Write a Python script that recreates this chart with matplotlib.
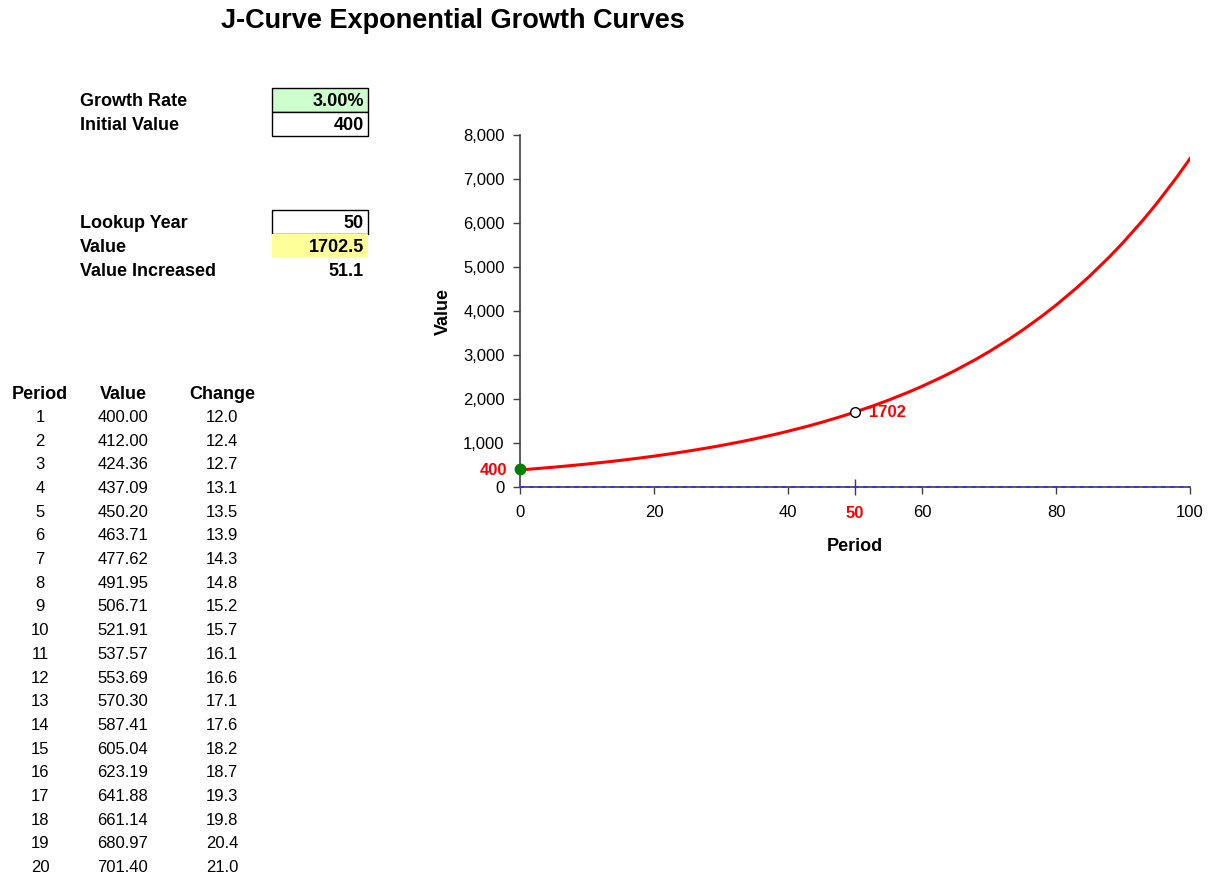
import matplotlib
matplotlib.use("Agg")
import matplotlib.pyplot as plt
from matplotlib.patches import Rectangle
from matplotlib.ticker import FuncFormatter

plt.rcParams['font.family'] = ['Liberation Sans', 'DejaVu Sans']

# -----------------------------
# DATA
# -----------------------------
growth_rate = "3.00%"
initial_value = 400
lookup_year = 50
lookup_value = 1702.5
value_increased = 51.1

table_periods = list(range(1, 21))
table_values = [400.00, 412.00, 424.36, 437.09, 450.20, 463.71, 477.62, 491.95,
                506.71, 521.91, 537.57, 553.69, 570.30, 587.41, 605.04, 623.19,
                641.88, 661.14, 680.97, 701.40]
table_changes = [12.0, 12.4, 12.7, 13.1, 13.5, 13.9, 14.3, 14.8, 15.2, 15.7,
                 16.1, 16.6, 17.1, 17.6, 18.2, 18.7, 19.3, 19.8, 20.4, 21.0]

curve_periods = [1, 3, 5, 8, 10, 13, 15, 18, 20, 23, 25, 28, 30, 33, 35, 38,
                 40, 43, 45, 48, 50, 53, 55, 58, 60, 63, 65, 68, 70, 73, 75,
                 78, 80, 83, 85, 88, 90, 93, 95, 98, 100]
curve_values = [400.0, 424.4, 450.2, 492.0, 521.9, 570.3, 605.0, 661.1,
                701.4, 766.4, 813.1, 888.5, 942.6, 1030.0, 1092.8, 1194.1,
                1266.8, 1384.3, 1468.6, 1604.8, 1702.5, 1860.4, 1973.6,
                2156.6, 2288.0, 2500.2, 2652.4, 2898.4, 3074.9, 3360.0,
                3564.6, 3895.2, 4132.4, 4515.6, 4790.5, 5234.7, 5553.6,
                6068.6, 6438.0, 7035.0, 7463.6]

x_ticks = [0, 20, 40, 60, 80, 100]
y_ticks = [0, 1000, 2000, 3000, 4000, 5000, 6000, 7000, 8000]

# -----------------------------
# FIGURE + HELPERS (pixel -> figure fraction)
# -----------------------------
W, H = 1209, 875


def fx(x):
    return x / W


def fy(y):
    return 1 - y / H


fig = plt.figure(figsize=(W / 100, H / 100), dpi=100)

fig.text(fx(453), fy(21), "J-Curve Exponential Growth Curves",
         ha="center", va="center", fontsize=19.5, fontweight="bold")

# -----------------------------
# INPUT CELLS
# -----------------------------
cells = [
    ("Growth Rate", growth_rate, 100, "#ccffcc", True),
    ("Initial Value", str(initial_value), 124, "white", True),
    ("Lookup Year", str(lookup_year), 222, "white", True),
    ("Value", f"{lookup_value:.1f}", 246, "#ffff99", False),
    ("Value Increased", f"{value_increased:.1f}", 270, "white", False),
]

for label, val, y, fill, border in cells:
    if border or fill != "white":
        fig.add_artist(Rectangle((fx(272), fy(y + 11.5)), 96 / W, 23.5 / H,
                                 transform=fig.transFigure, facecolor=fill,
                                 edgecolor="black" if border else "none",
                                 lw=1.0, zorder=0))
    fig.text(fx(80), fy(y + 1.5), label, ha="left", va="center",
             fontsize=13, fontweight="bold")
    fig.text(fx(364), fy(y + 1.5), val, ha="right", va="center",
             fontsize=13, fontweight="bold")

# -----------------------------
# TABLE
# -----------------------------
col_x = [40, 123, 222]
for cx, head in zip(col_x, ["Period", "Value", "Change"]):
    fig.text(fx(cx), fy(394.5), head, ha="center", va="center",
             fontsize=13, fontweight="bold")

row_h = (866 - 416) / 19
for i, (p, v, c) in enumerate(zip(table_periods, table_values, table_changes)):
    y = 417.5 + i * row_h
    fig.text(fx(col_x[0]), fy(y), str(p), ha="center", va="center", fontsize=12)
    fig.text(fx(col_x[1]), fy(y), f"{v:.2f}", ha="center", va="center", fontsize=12)
    fig.text(fx(col_x[2]), fy(y), f"{c:.1f}", ha="center", va="center", fontsize=12)

# -----------------------------
# CHART
# -----------------------------
ax = fig.add_axes([fx(520), fy(487), (1190 - 520) / W, (487 - 135) / H])

ax.plot(curve_periods, curve_values, color="red", lw=2.2, zorder=4)
ax.axhline(0, color="#3030ff", lw=1.3, ls=(0, (2.5, 2.5)), zorder=3, clip_on=False)
ax.plot([0], [initial_value], "o", color="#008000", ms=7.5, clip_on=False, zorder=6)
ax.plot([lookup_year], [lookup_value], "o", mfc="white", mec="black",
        ms=7, mew=1.0, zorder=6)
ax.annotate(str(int(lookup_value)), (lookup_year, lookup_value),
            xytext=(10, 0), textcoords="offset points", color="red",
            fontsize=12, fontweight="bold", va="center", ha="left")

ax.set_xlim(0, 100)
ax.set_ylim(0, 8000)

ax.set_xticks(x_ticks)
ax.set_xticks([lookup_year], minor=True)
ax.set_xticklabels([str(lookup_year)], minor=True, color="red",
                   fontweight="bold", fontsize=12)
ax.set_yticks(y_ticks)
ax.yaxis.set_major_formatter(FuncFormatter(lambda v, _: f"{v:,.0f}"))
ax.set_yticks([initial_value], minor=True)
ax.set_yticklabels([str(initial_value)], minor=True, color="red",
                   fontweight="bold", fontsize=12)

ax.tick_params(axis="both", which="major", direction="out", length=5,
               width=1, color="#404040", labelsize=12, pad=6)
ax.tick_params(axis="x", which="major", pad=8)
ax.tick_params(axis="x", which="minor", direction="inout", length=12,
               width=1, color="#404040", pad=8)
ax.tick_params(axis="y", which="minor", length=0, pad=9)

for side in ["top", "right"]:
    ax.spines[side].set_visible(False)
for side in ["left", "bottom"]:
    ax.spines[side].set_color("#404040")
    ax.spines[side].set_linewidth(1.2)

ax.set_xlabel("Period", fontsize=13, fontweight="bold", labelpad=12)
ax.set_ylabel("Value", fontsize=13, fontweight="bold", labelpad=8)

fig.savefig("out.png", dpi=100)
